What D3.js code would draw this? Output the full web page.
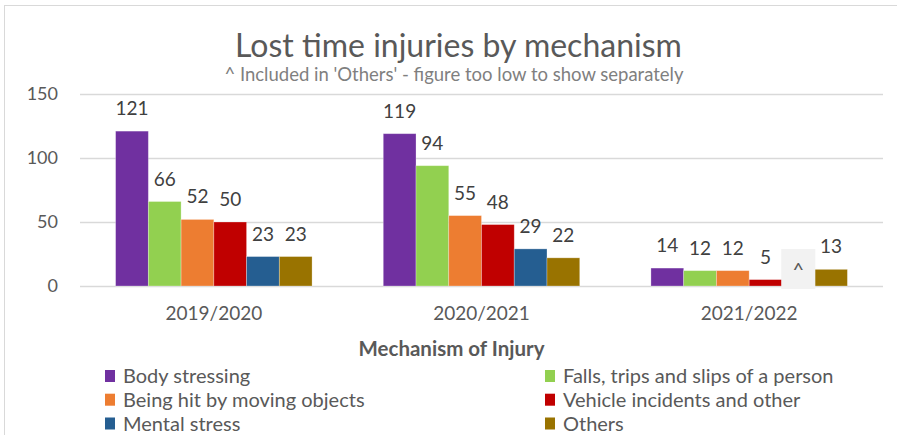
<!DOCTYPE html>
<html>
<head>
<meta charset="utf-8">
<script src="https://cdn.jsdelivr.net/npm/d3@7"></script>
<style>
  body { margin: 0; background: #fff; }
  svg { display: block; font-family: Lato, "Open Sans", sans-serif; }
</style>
</head>
<body>
<svg id="chart"></svg>
<script>
// chart data
const years = ["2019/2020", "2020/2021", "2021/2022"];
const mechanisms = [
    "Body stressing",
    "Falls, trips and slips of a person",
    "Being hit by moving objects",
    "Vehicle incidents and other",
    "Mental stress",
    "Others"
];
const bodyStressing = [121, 119, 14];
const fallsTripsSlips = [66, 94, 12];
const hitByObjects = [52, 55, 12];
const vehicleIncidents = [50, 48, 5];
const mentalStress = [23, 29, null]; // null -> shown as "^" (included in Others)
const others = [23, 22, 13];
const colors = ["#7030A0", "#92D050", "#ED7D31", "#C00000", "#255E91", "#997300"];
const yTicks = [0, 50, 100, 150];

const seriesValues = [bodyStressing, fallsTripsSlips, hitByObjects, vehicleIncidents, mentalStress, others];

const width = 897;
const height = 435;
const textColor = "#595959";

const svg = d3.select("#chart")
    .attr("width", width)
    .attr("height", height);

// chart border (only left and top visible in the crop)
svg.append("rect")
    .attr("x", 4.5).attr("y", 5.5)
    .attr("width", 1000).attr("height", 1000)
    .attr("fill", "#fff")
    .attr("stroke", "#d9d9d9");

// scales
const plotLeft = 80, plotRight = 883;
const x0 = d3.scaleBand().domain(years).range([plotLeft, plotRight]).padding(0);
const groupGap = 35.6;
const x1 = d3.scaleBand().domain(d3.range(mechanisms.length))
    .range([groupGap, x0.step() - groupGap]);
const y = d3.scaleLinear().domain([0, 150]).range([286, 94]);

// y axis with gridlines
const yAxis = svg.append("g")
    .attr("transform", `translate(${plotLeft},0)`)
    .call(d3.axisLeft(y).tickValues(yTicks).tickSize(-(plotRight - plotLeft)).tickPadding(22));
yAxis.select(".domain").remove();
yAxis.selectAll("line").attr("stroke", "#d9d9d9").attr("stroke-width", 1.3);
yAxis.selectAll("text")
    .attr("fill", textColor)
    .style("font-size", "18px")
    .style("font-family", "Lato");

// x axis labels
const xAxis = svg.append("g")
    .attr("transform", "translate(0,286)")
    .call(d3.axisBottom(x0).tickSize(0).tickPadding(21));
xAxis.select(".domain").remove();
xAxis.selectAll("text")
    .attr("fill", textColor)
    .style("font-size", "19px")
    .style("font-family", "Lato");

// bars
const rows = years.map((yr, i) => seriesValues.map((s, j) => ({ year: yr, series: j, value: s[i] })));

const group = svg.append("g")
    .selectAll("g")
    .data(rows)
    .join("g")
    .attr("transform", d => `translate(${x0(d[0].year)},0)`);

group.selectAll("rect")
    .data(d => d.filter(v => v.value != null))
    .join("rect")
    .attr("x", d => x1(d.series))
    .attr("y", d => y(d.value))
    .attr("width", x1.bandwidth())
    .attr("height", d => y(0) - y(d.value))
    .attr("fill", d => colors[d.series])
    .attr("stroke", "#fff")
    .attr("stroke-opacity", 0.35)
    .attr("stroke-width", 0.8);

// value labels
group.selectAll("text.value")
    .data(d => d.filter(v => v.value != null))
    .join("text")
    .attr("class", "value")
    .attr("x", d => x1(d.series) + x1.bandwidth() / 2)
    .attr("y", d => y(d.value) - 16)
    .attr("text-anchor", "middle")
    .attr("fill", "#404040")
    .style("font-size", "19px")
    .text(d => d.value);

// "^" marker for values too low to show
const caret = group.selectAll("g.caret")
    .data(d => d.filter(v => v.value == null))
    .join("g")
    .attr("class", "caret")
    .attr("transform", d => `translate(${x1(d.series) + x1.bandwidth() / 2},269)`);
caret.append("rect")
    .attr("x", -17).attr("y", -20)
    .attr("width", 34).attr("height", 40)
    .attr("fill", "#f2f2f2");
caret.append("text")
    .attr("text-anchor", "middle")
    .attr("y", 8)
    .attr("fill", "#595959")
    .style("font-size", "20px")
    .text("^");

// titles
svg.append("text")
    .attr("x", 458.5).attr("y", 56.5)
    .attr("text-anchor", "middle")
    .attr("fill", textColor)
    .style("font-size", "32px")
    .text("Lost time injuries by mechanism");

svg.append("text")
    .attr("x", 454).attr("y", 80.5)
    .attr("text-anchor", "middle")
    .attr("fill", "#7f7f7f")
    .style("font-size", "18.5px")
    .text("^ Included in 'Others' - figure too low to show separately");

svg.append("text")
    .attr("x", 451.5).attr("y", 355.5)
    .attr("text-anchor", "middle")
    .attr("fill", textColor)
    .style("font-size", "20.5px")
    .style("font-weight", "bold")
    .text("Mechanism of Injury");

// legend, two columns
const legendX = [123, 563];
const legendY = [383, 406.7, 430.5];
const legend = svg.append("g")
    .selectAll("g")
    .data(mechanisms)
    .join("g")
    .attr("transform", (d, i) => `translate(${legendX[i % 2]},${legendY[Math.floor(i / 2)]})`);
legend.append("rect")
    .attr("x", -18).attr("y", -13)
    .attr("width", 10).attr("height", 12)
    .attr("fill", (d, i) => colors[i]);
legend.append("text")
    .attr("fill", textColor)
    .style("font-size", "20px")
    .text(d => d);
</script>
</body>
</html>
